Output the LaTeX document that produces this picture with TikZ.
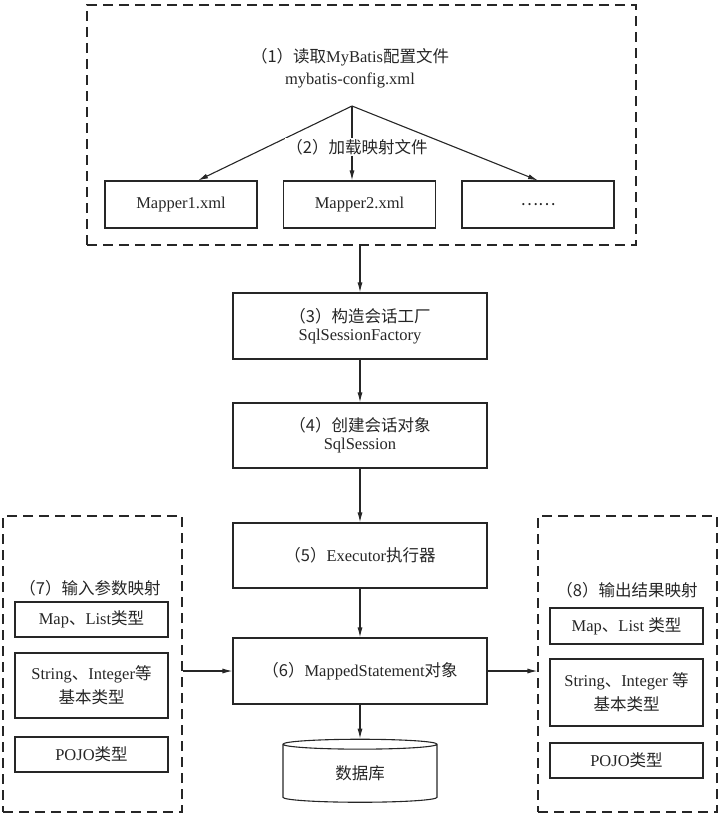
\documentclass[tikz,border=0pt]{standalone}
\usepackage{fontspec}
\setmainfont{Liberation Serif}
\newfontfamily\cjk{Noto Sans CJK SC}
\newcommand{\cn}[1]{{\cjk #1}}
\usetikzlibrary{arrows.meta,shapes.geometric}

\begin{document}
\begin{tikzpicture} [x=1pt,y=-1pt,->,>={Latex[length=10pt,width=5pt]},
    line width=1.1pt,color=black!85,
    every node/.style={font=\fontsize{16.5}{18}\selectfont},
    frame node/.style={draw,dash pattern=on 10pt off 6pt,inner sep=0pt},
    step node/.style={rectangle,draw,align=center,
      minimum width=254pt,minimum height=66pt,inner sep=0pt},
    file node/.style={rectangle,draw,align=center,
      minimum width=152pt,minimum height=47pt,inner sep=0pt},
    type node/.style={rectangle,draw,align=center,
      minimum width=153pt,minimum height=35pt,inner sep=0pt},
    db node/.style={cylinder,shape border rotate=90,draw,aspect=0.2,
      minimum width=154pt,minimum height=63pt,inner sep=0pt}]

  \useasboundingbox (0,0) rectangle (720,816);

  % loading the configuration
  \node [frame node, minimum width=549pt, minimum height=240pt] (config) at (361.5,125) {};
  \node [align=center] (read) at (350,68) {\cn{（1）读取}MyBatis\cn{配置文件}\\[4pt]mybatis-config.xml};
  \coordinate (fork) at (352,106);
  \node [file node] (mapper1) at (181,204.5) {Mapper1.xml};
  \node [file node] (mapper2) at (359.5,204.5) {Mapper2.xml};
  \node [file node] (mapper3) at (538,204.5) {\cn{……}};

  \draw[->] (fork) to ([xshift=17pt]mapper1.north);
  \draw[->] (fork) to ([xshift=-7.5pt]mapper2.north);
  \draw[->] (fork) to (mapper3.north);
  \node [fill=white, inner sep=1pt] (load) at (357,147) {\cn{（2）加载映射文件}};

  % the main steps
  \node [step node] (factory) at (360,326) {\cn{（3）构造会话工厂}\\SqlSessionFactory};
  \node [step node, minimum height=65pt] (session) at (360,435.5) {\cn{（4）创建会话对象}\\SqlSession};
  \node [step node, minimum height=65pt] (executor) at (360,555.5) {\cn{（5）}Executor\cn{执行器}};
  \node [step node] (statement) at (360,671) {\cn{（6）}MappedStatement\cn{对象}};
  \node [db node] (db) at (360,773.5) {\cn{数据库}};

  % input and output mappings
  \node [frame node, minimum width=179pt, minimum height=296pt] (input) at (92.5,664) {};
  \node (inlabel) at (90,588) {\cn{（7）输入参数映射}};
  \node [type node] (inmap) at (91.5,619.5) {Map\cn{、}List\cn{类型}};
  \node [type node, minimum height=65pt] (inbasic) at (91.5,685.5) {String\cn{、}Integer\cn{等}\\[6pt]\cn{基本类型}};
  \node [type node] (inpojo) at (91.5,754.5) {POJO\cn{类型}};

  \node [frame node, minimum width=179pt, minimum height=296pt] (output) at (627.5,664) {};
  \node (outlabel) at (627,590) {\cn{（8）输出结果映射}};
  \node [type node, minimum height=36pt] (outmap) at (626.5,626) {Map\cn{、}List \cn{类型}};
  \node [type node, minimum height=67pt] (outbasic) at (626.5,692.5) {String\cn{、}Integer \cn{等}\\[6pt]\cn{基本类型}};
  \node [type node] (outpojo) at (626.5,760.5) {POJO\cn{类型}};

  % connectors between the steps
  \draw[->] (config.south -| factory.north) to (factory);
  \draw[->] (factory) to (session);
  \draw[->] (session) to (executor);
  \draw[->] (executor) to (statement);
  \draw[->] (statement) to (db);
  \draw[->] (input.east |- statement.west) to (statement.west);
  \draw[->] (statement.east) to (output.west |- statement.east);

\end{tikzpicture}
\end{document}
